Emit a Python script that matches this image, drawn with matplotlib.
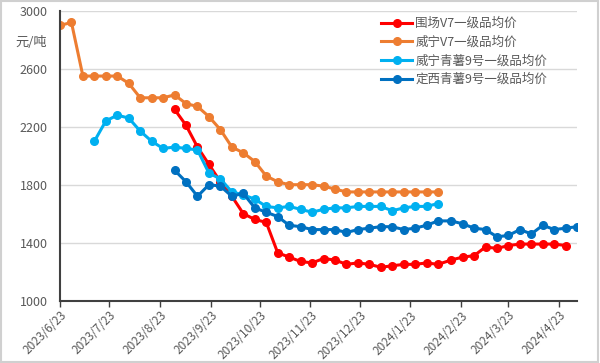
import matplotlib
matplotlib.use('Agg')
import matplotlib.pyplot as plt
import pandas as pd
import numpy as np
from matplotlib.patches import Rectangle

plt.rcParams['font.family'] = ['Noto Sans CJK SC', 'DejaVu Sans']

dates = ['2023-06-23', '2023-06-30', '2023-07-07', '2023-07-14', '2023-07-21', '2023-07-28',
         '2023-08-04', '2023-08-11', '2023-08-18', '2023-08-25', '2023-09-01', '2023-09-08',
         '2023-09-15', '2023-09-22', '2023-09-29', '2023-10-06', '2023-10-13', '2023-10-20',
         '2023-10-27', '2023-11-03', '2023-11-10', '2023-11-17', '2023-11-24', '2023-12-01',
         '2023-12-08', '2023-12-15', '2023-12-22', '2023-12-29', '2024-01-05', '2024-01-12',
         '2024-01-19', '2024-01-26', '2024-02-02', '2024-02-09', '2024-02-17', '2024-02-24',
         '2024-03-02', '2024-03-09', '2024-03-16', '2024-03-23', '2024-03-30', '2024-04-06',
         '2024-04-13', '2024-04-20', '2024-04-27', '2024-05-04']

n = np.nan
# 围场V7一级品均价
weichang_v7 = [n] * 10 + [2320, 2210, 2060, 1940, 1820, 1720, 1600, 1560, 1540, 1330,
                          1300, 1270, 1260, 1290, 1280, 1250, 1260, 1250, 1230, 1240,
                          1250, 1250, 1260, 1250,
                          1280, 1300, 1310, 1370, 1360, 1380, 1390, 1390, 1390, 1390, 1380] + [n]
# 威宁V7一级品均价
weining_v7 = [2900, 2920, 2550, 2550, 2550, 2550, 2500, 2400, 2400, 2400,
              2420, 2360, 2340, 2270, 2180, 2060, 2020, 1960, 1860, 1820,
              1800, 1800, 1800, 1790, 1770, 1750, 1750, 1750, 1750, 1750,
              1750, 1750, 1750, 1750] + [n] * 12
# 威宁青薯9号一级品均价
weining_qs9 = [n] * 3 + [2100, 2240, 2280, 2260, 2170, 2100, 2050, 2060, 2050, 2040,
                         1880, 1840, 1750, 1730, 1700, 1650, 1640, 1650, 1630, 1610,
                         1630, 1640, 1640, 1650, 1650, 1650, 1620, 1640, 1650, 1650, 1670] + [n] * 12
# 定西青薯9号一级品均价
dingxi_qs9 = [n] * 10 + [1900, 1820, 1720, 1800, 1790, 1720, 1740, 1640, 1610, 1580,
                         1520, 1510, 1490, 1490, 1490, 1470, 1490, 1500, 1510, 1510,
                         1490, 1500, 1520, 1550,
                         1550, 1530, 1500, 1490, 1440, 1450, 1490, 1460, 1520, 1490, 1500, 1510]

labels = ['围场V7一级品均价', '威宁V7一级品均价', '威宁青薯9号一级品均价', '定西青薯9号一级品均价']
colors = ['#FF0000', '#ED7D31', '#00B0F0', '#0070C0']
ticks = ['2023-06-23', '2023-07-23', '2023-08-23', '2023-09-23', '2023-10-23', '2023-11-23',
         '2023-12-23', '2024-01-23', '2024-02-23', '2024-03-23', '2024-04-23']

x = pd.to_datetime(dates)
fig = plt.figure(figsize=(6, 3.63), dpi=100)
ax = fig.add_axes([0.1, 0.172, 0.862, 0.798])

for series, lab, col in zip([weichang_v7, weining_v7, weining_qs9, dingxi_qs9], labels, colors):
    ax.plot(x, series, color=col, lw=2.2, marker='o', markersize=5.5, label=lab)

ax.set_ylim(1000, 3000)
ax.set_yticks(range(1000, 3001, 400))
ax.set_xlim(pd.Timestamp('2023-06-23'), pd.Timestamp('2024-05-04'))
tick_dates = pd.to_datetime(ticks)
ax.set_xticks(tick_dates)
ax.set_xticklabels([f'{d.year}/{d.month}/{d.day}' for d in tick_dates],
                   rotation=45, ha='right', rotation_mode='anchor')

ax.grid(axis='y', color='#D9D9D9', lw=1)
ax.set_axisbelow(True)
for s in ['top', 'right']:
    ax.spines[s].set_visible(False)
for s in ['left', 'bottom']:
    ax.spines[s].set_color('#404040')
    ax.spines[s].set_linewidth(1.5)
ax.tick_params(axis='y', length=0, pad=9, labelsize=9, labelcolor='#595959')
ax.tick_params(axis='x', length=4, width=1, color='#404040', direction='out', pad=2,
               labelsize=8.5, labelcolor='#595959')

fig.text(31 / 600, 1 - 43 / 363, '元/吨', ha='center', va='center', fontsize=9.5, color='#595959')

leg = ax.legend(loc='upper left', bbox_to_anchor=(381 / 600, 1 - 17 / 363),
                bbox_transform=fig.transFigure, frameon=False, fontsize=9,
                handlelength=2.5, handletextpad=0.25, labelspacing=0.45, borderpad=0,
                borderaxespad=0)
for t in leg.get_texts():
    t.set_color('#595959')

fig.patches.append(Rectangle((0.002, 0.003), 0.995, 0.994, transform=fig.transFigure,
                             fill=False, edgecolor='#D0D0D0', lw=1.5))

fig.savefig('out.png', dpi=100)
